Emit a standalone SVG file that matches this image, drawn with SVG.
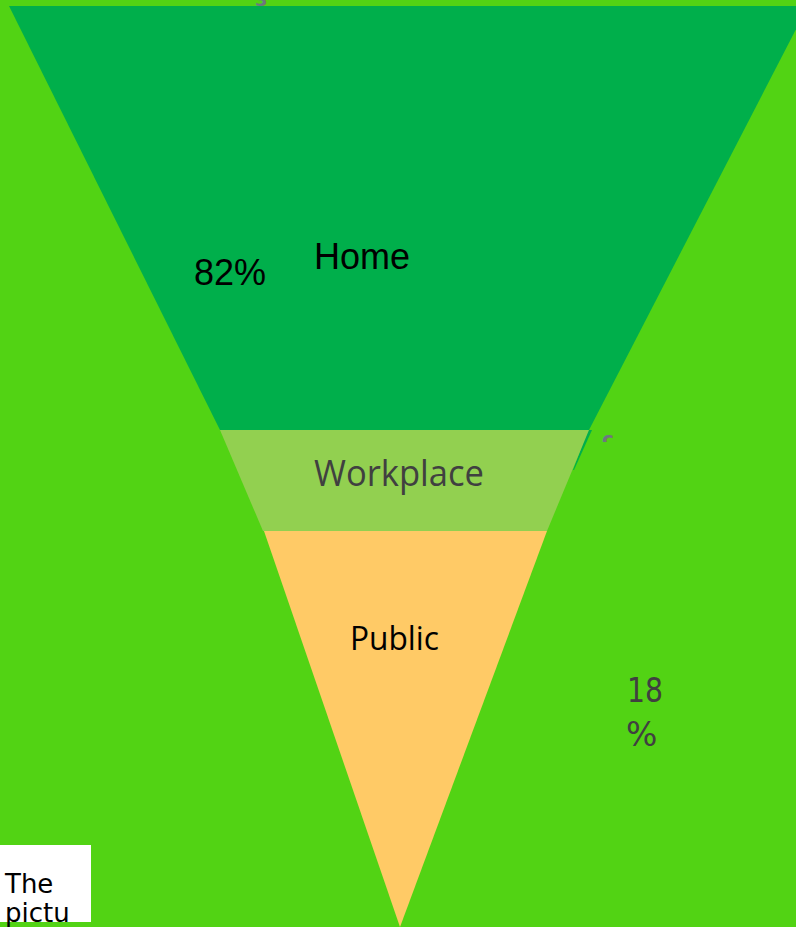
<svg xmlns="http://www.w3.org/2000/svg" width="796" height="927" viewBox="0 0 796 927">
  <style>
    .bg { fill: #52D314; }
    .home { fill: #00AF4B; }
    .work { fill: #92D050; }
    .pub { fill: #FFCA66; }
    .lbl { font-family: "Liberation Sans", Arial, sans-serif; fill: #000; }
    .lbl-o { font-family: "Open Sans", "Noto Sans", sans-serif; }
    .pct { font-family: "DejaVu Sans", "Liberation Sans", sans-serif; fill: #404040; font-size: 33px; }
    .tick { font-family: "DejaVu Sans", sans-serif; fill: #6E7681; font-weight: bold; }
  </style>
  <defs>
    <clipPath id="tick-clip">
      <rect x="600" y="432" width="16" height="10"/>
    </clipPath>
  </defs>

  <!-- canvas -->
  <rect class="bg" x="0" y="0" width="796" height="927"/>

  <!-- stray axis tick at the top edge -->
  <text class="tick" x="255" y="6" font-size="18">3</text>

  <g id="funnel">
    <g id="node-home">
      <polygon class="home" points="9,6 808,6 589,430 220,430"/>
      <text class="lbl" x="314" y="269" font-size="36">Home</text>
    </g>
    <!-- thin dark seam along the right side of the workplace band -->
    <polygon class="home" points="588,430 592,430 574,470 573,470"/>
    <g id="node-workplace">
      <polygon class="work" points="220,430 589,430 547,531 263,531"/>
      <text class="lbl-o" x="314" y="486" font-size="36" fill="#404040" textLength="170" lengthAdjust="spacingAndGlyphs">Workplace</text>
    </g>
    <g id="node-public">
      <polygon class="pub" points="264,531 547,531 400,927"/>
      <text class="lbl-o" x="350" y="650" font-size="32" fill="#000" textLength="89" lengthAdjust="spacingAndGlyphs">Public</text>
    </g>
  </g>

  <g id="values">
    <text class="lbl" x="194" y="285" font-size="36">82%</text>
    <text class="pct" x="627" y="702" textLength="36" lengthAdjust="spacingAndGlyphs">18</text>
    <text class="pct" x="626" y="746">%</text>
  </g>

  <!-- second stray tick on the right -->
  <g clip-path="url(#tick-clip)">
    <text class="tick" x="602" y="446" font-size="20">c</text>
  </g>

  <g id="note">
    <rect x="0" y="845" width="91" height="77" fill="#FFFFFF"/>
    <text x="5" y="893" font-size="26" font-family="DejaVu Sans, sans-serif" fill="#000">The</text>
    <text x="5" y="922" font-size="26" font-family="DejaVu Sans, sans-serif" fill="#000">pictu</text>
  </g>

  <g id="connectors"/>
</svg>
